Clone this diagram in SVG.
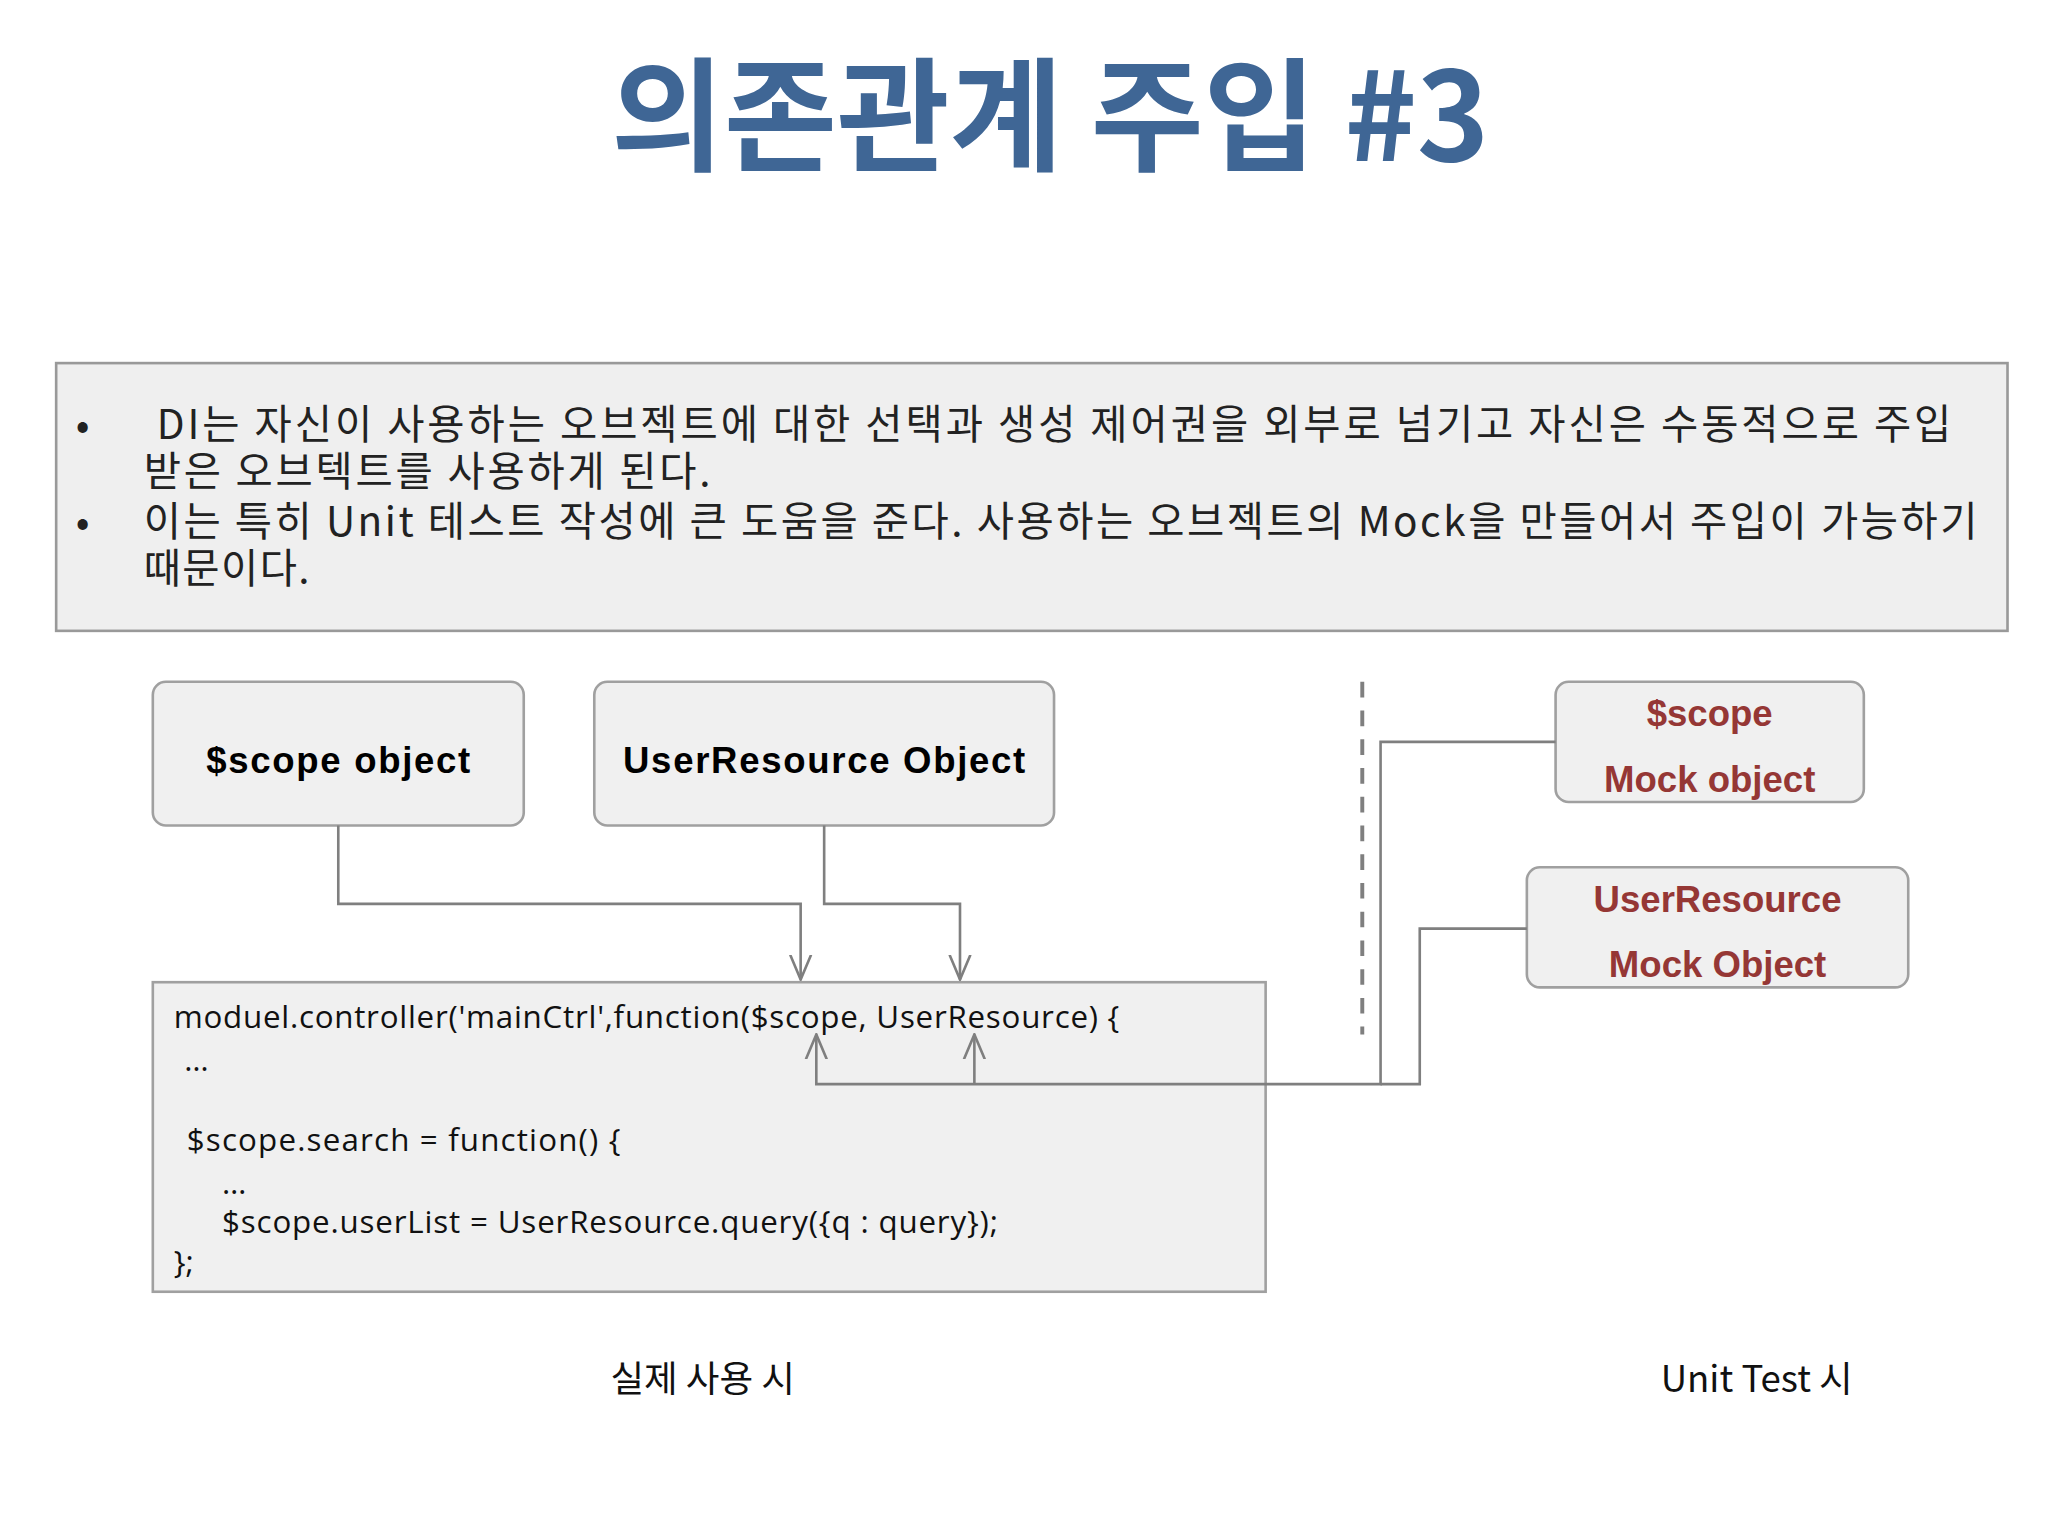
<svg xmlns="http://www.w3.org/2000/svg" width="2048" height="1536" viewBox="0 0 2048 1536">
<style>
.t{font-family:"Noto Sans CJK KR","Noto Sans",sans-serif}
.node{fill:#f0f0f0;stroke:#a0a0a0;stroke-width:2}
.nb{font-family:"Liberation Sans",Arial,sans-serif;font-weight:bold;font-size:28px;text-anchor:middle}
.red{fill:#953735}
.code{font-family:"Open Sans","Noto Sans",sans-serif;font-size:24px;fill:#111}
.c{fill:none;stroke:#7f7f7f;stroke-width:2}
</style>
<defs>
<marker id="ah" viewBox="0 0 20 20" refX="19" refY="10" markerWidth="20" markerHeight="20" markerUnits="userSpaceOnUse" orient="auto">
<path d="M0 2 L19 10 L0 18" fill="none" stroke="#7f7f7f" stroke-width="2"/>
</marker>
</defs>
<rect width="2048" height="1536" fill="#fff"/>
<g transform="scale(1.30612)">
<text x="804" y="123" text-anchor="middle" class="t" font-size="94" font-weight="bold" fill="#3f6695">의존관계 주입 #3</text>
<g id="desc">
<rect x="43" y="278" width="1494" height="205" fill="#efefef" stroke="#999" stroke-width="2"/>
<g class="t" font-size="31" fill="#222">
<text x="58" y="336">•</text><text x="120" y="336" textLength="1374" lengthAdjust="spacing">DI는 자신이 사용하는 오브젝트에 대한 선택과 생성 제어권을 외부로 넘기고 자신은 수동적으로 주입</text>
<text x="110" y="372" textLength="434" lengthAdjust="spacing">받은 오브텍트를 사용하게 된다.</text>
<text x="58" y="410">•</text><text x="110" y="410" textLength="1404" lengthAdjust="spacing">이는 특히 Unit 테스트 작성에 큰 도움을 준다. 사용하는 오브젝트의 Mock을 만들어서 주입이 가능하기</text>
<text x="110" y="446" textLength="127" lengthAdjust="spacing">때문이다.</text>
</g>
</g>
<g id="scope"><rect class="node" x="117" y="522" width="284" height="110" rx="10"/><text class="nb" x="259" y="592" textLength="202" lengthAdjust="spacing">$scope object</text></g>
<g id="userres"><rect class="node" x="455" y="522" width="352" height="110" rx="10"/><text class="nb" x="631" y="592" textLength="308" lengthAdjust="spacing">UserResource Object</text></g>
<g id="scopeMock"><rect class="node" x="1191" y="522" width="236" height="92" rx="10"/><text class="nb red" x="1309" y="556" font-size="25">$scope</text><text class="nb red" x="1309" y="606" font-size="25">Mock object</text></g>
<g id="userMock"><rect class="node" x="1169" y="664" width="292" height="92" rx="10"/><text class="nb red" x="1315" y="698" font-size="25">UserResource</text><text class="nb red" x="1315" y="748" font-size="25">Mock Object</text></g>
<g id="code">
<rect x="117" y="752" width="852" height="237" fill="#f0f0f0" stroke="#a0a0a0" stroke-width="2"/>
<text class="code" x="133" y="787" textLength="724" lengthAdjust="spacing">moduel.controller('mainCtrl',function($scope, UserResource) {</text>
<text class="code" x="141" y="820">…</text>
<text class="code" x="143" y="881" textLength="332" lengthAdjust="spacing">$scope.search = function() {</text>
<text class="code" x="170" y="914">…</text>
<text class="code" x="170" y="944" textLength="594" lengthAdjust="spacing">$scope.userList = UserResource.query({q : query});</text>
<text class="code" x="133" y="975">};</text>
</g>
<g id="connectors">
<path class="c" d="M259 632 V692 H613 V750" marker-end="url(#ah)"/>
<path class="c" d="M631 632 V692 H735 V750" marker-end="url(#ah)"/>
<path class="c" d="M1191 568 H1057 V830 H625 V792" marker-end="url(#ah)"/>
<path class="c" d="M746 830 V792" marker-end="url(#ah)"/>
<path class="c" d="M1169 711 H1087 V830 H1057"/>
<line x1="1043" y1="522" x2="1043" y2="792" stroke="#7f7f7f" stroke-width="3" stroke-dasharray="12 10"/>
</g>
<text class="t" x="538" y="1066" text-anchor="middle" font-size="28" fill="#111">실제 사용 시</text>
<text class="t" x="1345" y="1066" text-anchor="middle" font-size="28" fill="#111">Unit Test 시</text>
</g>
</svg>
